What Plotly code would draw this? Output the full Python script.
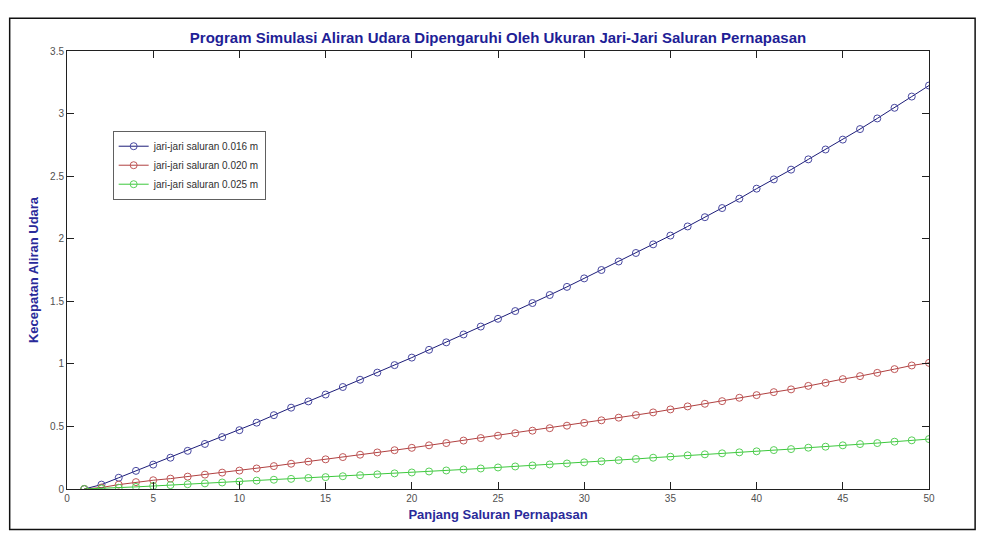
import plotly.graph_objects as go

# Channel length (x) and simulated airflow speed for three channel radii
panjang = list(range(1, 51))

kecepatan_016 = [
    0.0, 0.035, 0.09, 0.145, 0.195, 0.25, 0.305, 0.36, 0.415, 0.47,
    0.53, 0.59, 0.65, 0.70, 0.755, 0.815, 0.873, 0.93, 0.99, 1.05,
    1.112, 1.172, 1.235, 1.298, 1.36, 1.422, 1.486, 1.55, 1.615, 1.683,
    1.75, 1.818, 1.886, 1.955, 2.025, 2.098, 2.172, 2.245, 2.32, 2.40,
    2.474, 2.552, 2.634, 2.713, 2.792, 2.876, 2.961, 3.046, 3.136, 3.224,
]

kecepatan_020 = [
    0.0, 0.012, 0.035, 0.055, 0.07, 0.083, 0.099, 0.115, 0.131, 0.147,
    0.164, 0.183, 0.202, 0.219, 0.237, 0.255, 0.274, 0.292, 0.310, 0.329,
    0.349, 0.367, 0.387, 0.407, 0.426, 0.446, 0.466, 0.486, 0.506, 0.528,
    0.549, 0.570, 0.591, 0.612, 0.636, 0.660, 0.681, 0.702, 0.729, 0.750,
    0.774, 0.796, 0.824, 0.848, 0.878, 0.902, 0.928, 0.958, 0.987, 1.008,
]

kecepatan_025 = [
    0.0, 0.004, 0.01, 0.017, 0.024, 0.031, 0.038, 0.045, 0.052, 0.06,
    0.067, 0.074, 0.081, 0.088, 0.095, 0.102, 0.11, 0.117, 0.125, 0.132,
    0.14, 0.148, 0.156, 0.164, 0.172, 0.18, 0.188, 0.196, 0.204, 0.213,
    0.221, 0.23, 0.24, 0.25, 0.258, 0.269, 0.277, 0.285, 0.293, 0.301,
    0.311, 0.319, 0.33, 0.338, 0.349, 0.359, 0.367, 0.378, 0.389, 0.399,
]

nama_seri = [
    "jari-jari saluran 0.016 m",
    "jari-jari saluran 0.020 m",
    "jari-jari saluran 0.025 m",
]

x_ticks = [0, 5, 10, 15, 20, 25, 30, 35, 40, 45, 50]
y_ticks = [0, 0.5, 1, 1.5, 2, 2.5, 3, 3.5]
y_tick_text = ["0", "0.5", "1", "1.5", "2", "2.5", "3", "3.5"]

warna_garis = ["#1c1c78", "#b04040", "#3cc83c"]
warna_marker = ["#4848a0", "#c05858", "#58d058"]

fig = go.Figure()
for nama, nilai, wg, wm in zip(nama_seri, [kecepatan_016, kecepatan_020, kecepatan_025],
                               warna_garis, warna_marker):
    fig.add_trace(go.Scatter(
        x=panjang, y=nilai, name=nama, mode="lines+markers",
        line=dict(color=wg, width=1),
        marker=dict(symbol="circle-open", size=7, color=wm, line=dict(width=1)),
    ))

label_font = dict(family="Liberation Sans, Arial, sans-serif", size=13, color="#2a2a9a")

fig.update_layout(
    width=990, height=542,
    margin=dict(l=67, r=61, t=51, b=53),
    paper_bgcolor="white", plot_bgcolor="white",
    title=dict(
        text="<b>Program Simulasi Aliran Udara Dipengaruhi Oleh Ukuran Jari-Jari Saluran Pernapasan</b>",
        x=0.5, xref="paper", xanchor="center", y=1, yref="paper", yanchor="bottom",
        pad=dict(b=8),
        font=dict(family="Liberation Sans, Arial, sans-serif", size=15, color="#1e1e96"),
    ),
    showlegend=True,
    legend=dict(
        x=0.053, y=0.818, xanchor="left", yanchor="top",
        bgcolor="white", bordercolor="#606060", borderwidth=1,
        font=dict(family="Liberation Sans, Arial, sans-serif", size=10, color="#303030"),
        tracegroupgap=0, itemwidth=30,
    ),
    font=dict(family="Liberation Sans, Arial, sans-serif"),
)

fig.update_xaxes(
    range=[0, 50], tickvals=x_ticks, ticktext=[str(v) for v in x_ticks],
    ticks="inside", ticklen=7, tickcolor="#202020", mirror="ticks",
    showline=True, linecolor="#202020", linewidth=1, showgrid=False, zeroline=False,
    tickfont=dict(size=10, color="#505050"),
    title=dict(text="<b>Panjang Saluran Pernapasan</b>", font=label_font, standoff=6),
)
fig.update_yaxes(
    range=[0, 3.5], tickvals=y_ticks, ticktext=y_tick_text,
    ticks="inside", ticklen=7, tickcolor="#202020", mirror="ticks",
    showline=True, linecolor="#202020", linewidth=1, showgrid=False, zeroline=False,
    tickfont=dict(size=10, color="#505050"),
    title=dict(text="<b>Kecepatan Aliran Udara</b>", font=label_font, standoff=8),
)

# Outer frame around the whole figure window
fig.add_shape(type="rect", xref="paper", yref="paper",
              x0=-0.0665, x1=1.0535, y0=-0.0925, y1=1.075,
              line=dict(color="#101010", width=1.5))

fig.write_html("out.html")
